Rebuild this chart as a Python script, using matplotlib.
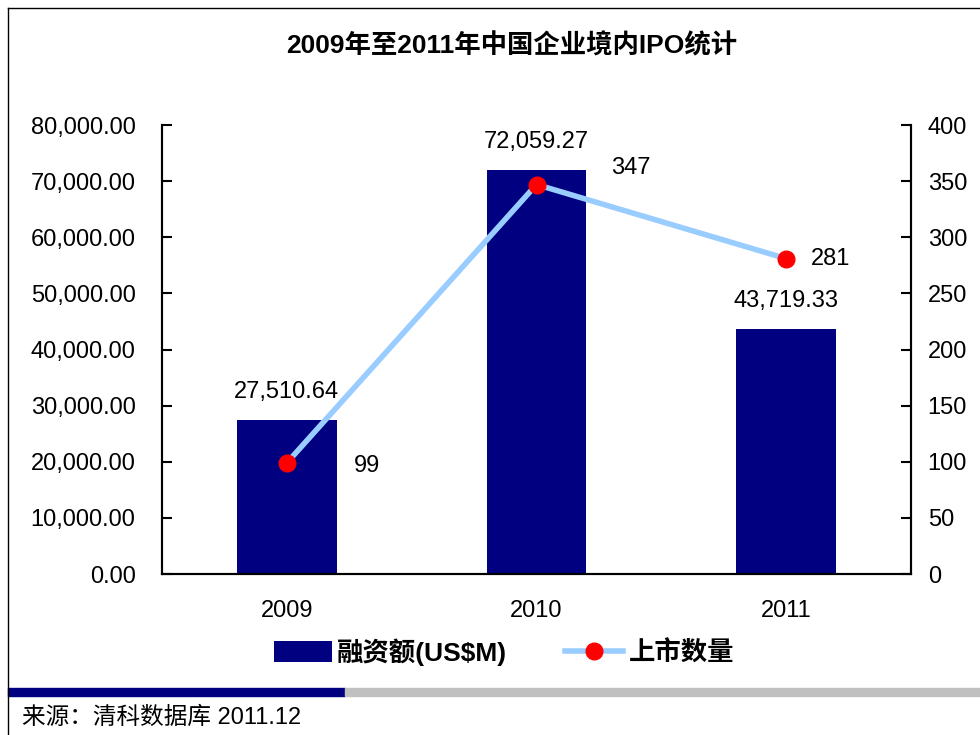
import numpy as np
import matplotlib.pyplot as plt
from matplotlib.lines import Line2D
from matplotlib.patches import Rectangle

plt.rcParams['font.family'] = ['Liberation Sans', 'Noto Sans CJK SC', 'DejaVu Sans']
plt.rcParams['axes.unicode_minus'] = False

# 数据
years = ['2009', '2010', '2011']
amount = [27510.64, 72059.27, 43719.33]   # 融资额(US$M)
count = [99, 347, 281]                    # 上市数量
count_offsets = [(58, -2), (68, 12), (32, 0)]  # 数量标签偏移(points)

x = np.arange(len(years))

fig = plt.figure(figsize=(9.8, 7.35), dpi=100)
ax = fig.add_axes([0.1653, 0.2190, 0.7643, 0.6109])
ax2 = ax.twinx()

bars = ax.bar(x, amount, 0.4, color='#000080', label='融资额(US$M)', zorder=2)
ax.set_xlim(-0.5, 2.5)
ax.set_ylim(0, 80000)
ax.set_yticks(np.arange(0, 80001, 10000))
ax.yaxis.set_major_formatter(plt.FuncFormatter(lambda v, p: f'{v:,.2f}'))
ax.set_xticks(x)
ax.set_xticklabels(years)
ax.tick_params(axis='x', length=0, pad=19, labelsize=17)
ax.tick_params(axis='y', direction='in', length=7, width=1.5, labelsize=17, pad=19)
for b, v in zip(bars, amount):
    ax.annotate(f'{v:,.2f}', (b.get_x() + b.get_width() / 2, v),
                xytext=(0, 20), textcoords='offset points',
                ha='center', va='center', fontsize=17)

ln, = ax2.plot(x, count, color='#99CCFF', lw=4, marker='o', ms=12,
               mfc='red', mec='red', label='上市数量', zorder=3)
ax2.set_ylim(0, 400)
ax2.set_yticks(np.arange(0, 401, 50))
ax2.tick_params(axis='y', direction='in', length=7, width=1.5, labelsize=17, pad=12)
for xi, v, off in zip(x, count, count_offsets):
    ax2.annotate(str(v), (xi, v), xytext=off, textcoords='offset points',
                 ha='center', va='center', fontsize=17)

for a in (ax, ax2):
    a.spines['top'].set_visible(False)
    for s in ('left', 'right', 'bottom'):
        a.spines[s].set_linewidth(1.5)

fig.text(0.522, 0.938, '2009年至2011年中国企业境内IPO统计', ha='center', va='center',
         fontsize=19, fontweight='bold')

fig.legend([bars, ln], ['融资额(US$M)', '上市数量'], loc='center',
           bbox_to_anchor=(0.514, 0.113), ncol=2, frameon=False,
           prop={'size': 19, 'weight': 'bold'}, handlelength=2.2,
           handleheight=0.8, columnspacing=2.2, handletextpad=0.2)

# 边框与底部色条
fig.add_artist(Line2D([8 / 980, 1], [1 - 8 / 735] * 2, color='black', lw=1))
fig.add_artist(Line2D([8 / 980] * 2, [0, 1 - 8 / 735], color='black', lw=1))
fig.add_artist(Rectangle((8 / 980, 1 - 696 / 735), 337 / 980, 8 / 735,
                         color='#000080', transform=fig.transFigure))
fig.add_artist(Rectangle((345 / 980, 1 - 696 / 735), 635 / 980, 8 / 735,
                         color='#C0C0C0', transform=fig.transFigure))
fig.text(22 / 980, 1 - 718 / 735, '来源：清科数据库 2011.12', ha='left', va='center',
         fontsize=17)

fig.savefig('out.png', dpi=100)
